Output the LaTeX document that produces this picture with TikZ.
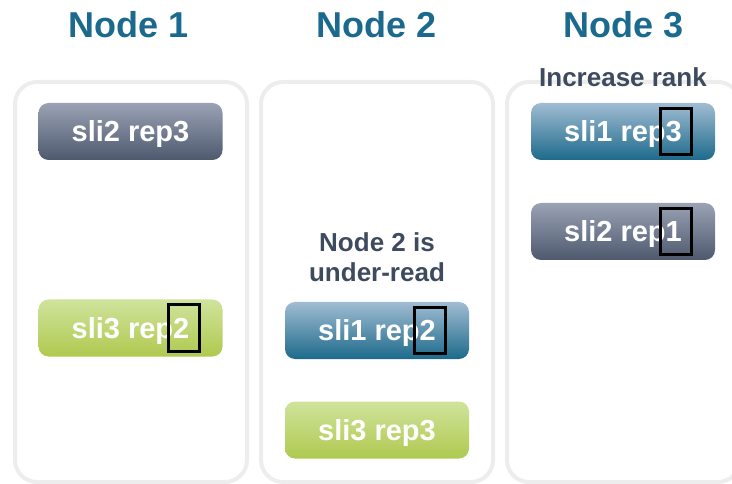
\documentclass[tikz,border=0pt]{standalone}
\usepackage{fontspec}
\setmainfont{Liberation Sans}
\definecolor{titleblue}{HTML}{1B6A8E}
\definecolor{notetext}{HTML}{3E4B5E}
\definecolor{panelgray}{HTML}{EDEDED}
\definecolor{slatetop}{HTML}{9AA2B4}
\definecolor{slatebot}{HTML}{4E596E}
\definecolor{bluetop}{HTML}{A0BCD2}
\definecolor{bluebot}{HTML}{1D6A8B}
\definecolor{greentop}{HTML}{D0E39C}
\definecolor{greenbot}{HTML}{AFC94F}
\tikzset{
  panel/.style={draw=panelgray, line width=4pt, rounded corners=22pt},
  title/.style={anchor=base, text=titleblue, inner sep=0pt,
    font=\fontsize{36}{43}\selectfont\bfseries},
  note/.style={text=notetext, inner sep=0pt, align=center,
    font=\fontsize{26}{30}\selectfont\bfseries},
  replica/.style={rounded corners=10pt, minimum width=184pt, minimum height=57pt,
    inner sep=0pt, text height=20.5pt, text depth=0pt, text=white,
    font=\fontsize{29}{34}\selectfont\bfseries},
  slate/.style={replica, top color=slatetop, bottom color=slatebot},
  teal/.style={replica, top color=bluetop, bottom color=bluebot},
  lime/.style={replica, top color=greentop, bottom color=greenbot},
  rankmark/.style={draw=black, line width=3pt, minimum width=31pt,
    minimum height=46pt, inner sep=0pt}
}
\begin{document}
\begin{tikzpicture}[x=1pt, y=-1pt]
\useasboundingbox (0,0) rectangle (732,484);
\clip (0,0) rectangle (732,484);

% machine panels
\draw[panel] (15,82) rectangle (247,482);
\draw[panel] (261,82) rectangle (493,482);
\draw[panel] (507,82) rectangle (740,482);

% headings
\node[title] (t1) at (129,38) {Node 1};
\node[title] (t2) at (377,38) {Node 2};
\node[title] (t3) at (623.5,38) {Node 3};

% Node 1
\node[slate] (a1) at (130.5,131.5) {sli2 rep3};
\node[lime]  (a2) at (130.5,328) {sli3 rep2};
\node[rankmark] (m1) at ([xshift=53pt]a2.center) {};

% Node 2
\node[note] (n2) at (377,257.5) {Node 2 is\\under-read};
\node[teal] (b1) at (377,330.5) {sli1 rep2};
\node[lime] (b2) at (377,430) {sli3 rep3};
\node[rankmark] (m2) at ([xshift=53pt]b1.center) {};

% Node 3
\node[note, anchor=base] (n3) at (623,87) {Increase rank};
\node[teal]  (c1) at (623,131.5) {sli1 rep3};
\node[slate] (c2) at (623,231.5) {sli2 rep1};
\node[rankmark] (m3) at ([xshift=53pt]c1.center) {};
\node[rankmark] (m4) at ([xshift=53pt]c2.center) {};
\end{tikzpicture}
\end{document}
